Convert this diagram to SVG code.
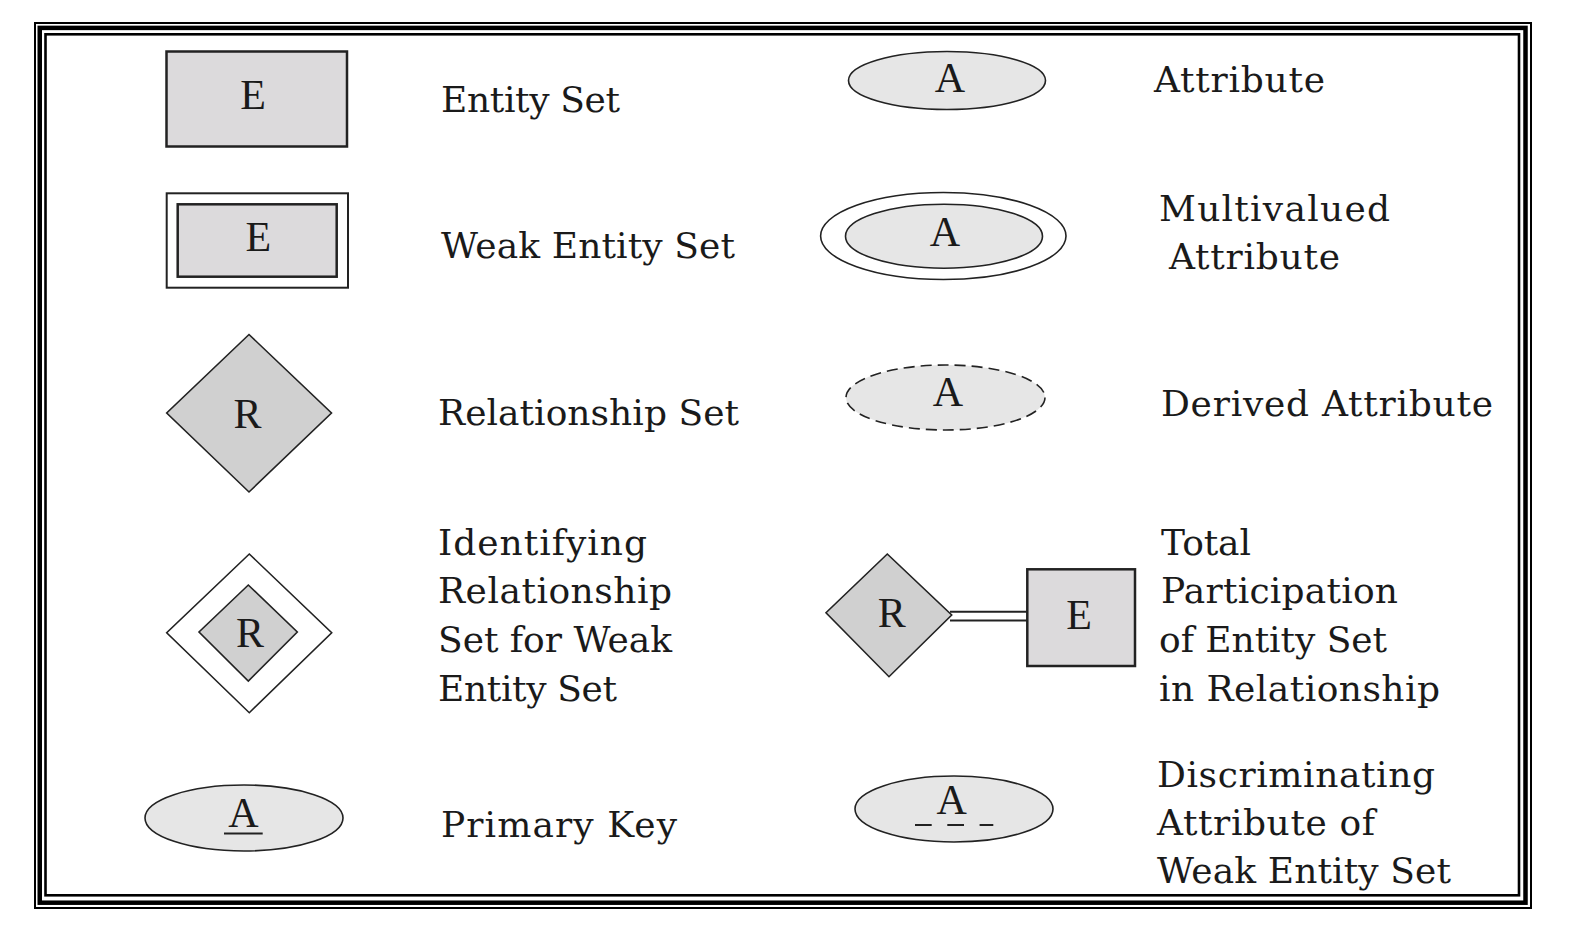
<svg xmlns="http://www.w3.org/2000/svg" width="1575" height="941" viewBox="0 0 1575 941">
<style>
.lbl{font-family:"DejaVu Serif","Liberation Serif",serif;font-size:36px;fill:#1a1a1a}
.sym{font-family:"Liberation Serif","Times New Roman",serif;font-size:42px;fill:#1a1a1a;text-anchor:middle}
.ent{fill:#dcdadc;stroke:#222;stroke-width:2.5}
.rel{fill:#d0d0d0;stroke:#222;stroke-width:1.6}
.att{fill:#e6e6e6;stroke:#222;stroke-width:1.6}
.frame{fill:none;stroke:#000}
.conn{stroke:#222;stroke-width:2;fill:none}
</style>
<rect x="0" y="0" width="1575" height="941" fill="#fff"/>
<g id="frame">
<rect class="frame" x="35" y="23" width="1496" height="885" stroke-width="2"/>
<rect class="frame" x="39.75" y="27.9" width="1485.75" height="874.8" stroke-width="4.5"/>
<rect class="frame" x="45.5" y="34.3" width="1473.5" height="861" stroke-width="2.6"/>
</g>
<g id="entity-set">
<rect class="ent" x="166.5" y="51.5" width="180.5" height="95"/>
<text class="sym" x="253" y="108.5">E</text>
<text class="lbl" x="441" y="112" textLength="179" lengthAdjust="spacing">Entity Set</text>
</g>
<g id="weak-entity-set">
<rect x="166.7" y="193.3" width="181.3" height="94.4" fill="#fff" stroke="#222" stroke-width="2"/>
<rect class="ent" x="177.7" y="204.3" width="159" height="72.4"/>
<text class="sym" x="258.3" y="251">E</text>
<text class="lbl" x="441" y="258" textLength="294" lengthAdjust="spacing">Weak Entity Set</text>
</g>
<g id="relationship-set">
<polygon class="rel" points="249,334.5 331.5,413 249,492 166.7,413"/>
<text class="sym" x="247.5" y="428">R</text>
<text class="lbl" x="438" y="425" textLength="301" lengthAdjust="spacing">Relationship Set</text>
</g>
<g id="identifying-relationship-set">
<polygon points="249.3,554 331.7,632.7 249.3,712.7 166.7,632.7" fill="#fff" stroke="#222" stroke-width="1.6"/>
<polygon class="rel" points="248.3,585 297.3,632 248.3,681 199,632"/>
<text class="sym" x="250" y="646.5">R</text>
<text class="lbl" x="438" y="555" textLength="209" lengthAdjust="spacing">Identifying</text>
<text class="lbl" x="438" y="603" textLength="234" lengthAdjust="spacing">Relationship</text>
<text class="lbl" x="438" y="652" textLength="234" lengthAdjust="spacing">Set for Weak</text>
<text class="lbl" x="438" y="701" textLength="179" lengthAdjust="spacing">Entity Set</text>
</g>
<g id="primary-key">
<ellipse class="att" cx="244" cy="818" rx="99" ry="33"/>
<text class="sym" x="243.3" y="827.3">A</text>
<line x1="224" y1="833.5" x2="262.7" y2="833.5" stroke="#222" stroke-width="2"/>
<text class="lbl" x="441" y="837" textLength="236" lengthAdjust="spacing">Primary Key</text>
</g>
<g id="attribute">
<ellipse class="att" cx="947" cy="80.5" rx="98.5" ry="29"/>
<text class="sym" x="950" y="92">A</text>
<text class="lbl" x="1154" y="92" textLength="171" lengthAdjust="spacing">Attribute</text>
</g>
<g id="multivalued-attribute">
<ellipse cx="943.3" cy="236" rx="122.7" ry="43.5" fill="#fff" stroke="#222" stroke-width="1.6"/>
<ellipse class="att" cx="944" cy="236.2" rx="98.5" ry="32"/>
<text class="sym" x="945" y="245.7">A</text>
<text class="lbl" x="1159" y="221" textLength="231" lengthAdjust="spacing">Multivalued</text>
<text class="lbl" x="1169" y="269" textLength="171" lengthAdjust="spacing">Attribute</text>
</g>
<g id="derived-attribute">
<ellipse class="att" cx="945.5" cy="397.5" rx="99.5" ry="32.5" stroke-dasharray="11 6"/>
<text class="sym" x="948" y="406">A</text>
<text class="lbl" x="1161" y="416" textLength="332" lengthAdjust="spacing">Derived Attribute</text>
</g>
<g id="total-participation">
<polygon class="rel" points="887.3,554 951.7,615 889,676.7 826,612.7"/>
<text class="sym" x="891.7" y="626.7">R</text>
<rect class="ent" x="1027.3" y="569.3" width="107.7" height="96.7"/>
<text class="sym" x="1079" y="629">E</text>
<text class="lbl" x="1161" y="555" textLength="90" lengthAdjust="spacing">Total</text>
<text class="lbl" x="1161" y="603" textLength="237" lengthAdjust="spacing">Participation</text>
<text class="lbl" x="1159" y="652" textLength="228" lengthAdjust="spacing">of Entity Set</text>
<text class="lbl" x="1159" y="701" textLength="281" lengthAdjust="spacing">in Relationship</text>
</g>
<g id="connectors">
<line class="conn" x1="950" y1="611.7" x2="1027" y2="611.7"/>
<line class="conn" x1="950" y1="620.5" x2="1027" y2="620.5"/>
</g>
<g id="discriminating-attribute">
<ellipse class="att" cx="954" cy="809" rx="99" ry="33"/>
<text class="sym" x="951.7" y="814.3">A</text>
<line x1="915" y1="825" x2="993.3" y2="825" stroke="#222" stroke-width="2" stroke-dasharray="16.7 15.6"/>
<text class="lbl" x="1157" y="787" textLength="278" lengthAdjust="spacing">Discriminating</text>
<text class="lbl" x="1157" y="835" textLength="218" lengthAdjust="spacing">Attribute of</text>
<text class="lbl" x="1157" y="883" textLength="294" lengthAdjust="spacing">Weak Entity Set</text>
</g>
</svg>
